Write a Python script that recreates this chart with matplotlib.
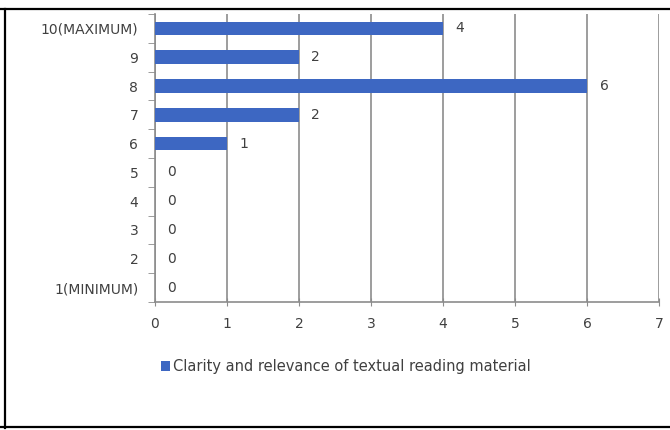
import numpy as np
import matplotlib.pyplot as plt
from matplotlib.lines import Line2D

plt.rcParams['font.family'] = ['DejaVu Sans']

categories = ['1(MINIMUM)', '2', '3', '4', '5', '6', '7', '8', '9', '10(MAXIMUM)']
values = [0, 0, 0, 0, 0, 1, 2, 6, 2, 4]
series_name = 'Clarity and relevance of textual reading material'
bar_color = '#3d67c2'
grid_color = '#8c8c8c'
text_color = '#404040'

fig = plt.figure(figsize=(6.7, 4.3), dpi=100)
ax = fig.add_axes([0.2313, 0.2977, 0.7523, 0.6697])

y = np.arange(len(categories))
bars = ax.barh(y, values, height=0.47, color=bar_color, label=series_name, zorder=3)

for yi, v in zip(y, values):
    ax.annotate(str(v), (v, yi), xytext=(9, 0), textcoords='offset points',
                ha='left', va='center', fontsize=10, color=text_color)

ax.set_xlim(0, 7)
ax.set_ylim(-0.5, len(categories) - 0.5)
ax.set_xticks(range(8))
ax.set_yticks(y)
ax.set_yticklabels(categories)
ax.set_yticks(np.arange(-0.5, len(categories)), minor=True)

ax.xaxis.grid(True, color=grid_color, linewidth=1.2, zorder=0)
ax.tick_params(axis='y', which='major', length=0, pad=12, labelsize=10, labelcolor=text_color)
ax.tick_params(axis='y', which='minor', length=5, color=grid_color, direction='out')
ax.tick_params(axis='x', which='major', length=6, direction='inout', color=grid_color,
               pad=8, labelsize=10, labelcolor=text_color)

for s in ['top', 'right']:
    ax.spines[s].set_visible(False)
for s in ['left', 'bottom']:
    ax.spines[s].set_color(grid_color)
    ax.spines[s].set_linewidth(1.2)

fig.legend(handles=[bars], labels=[series_name], loc='center left',
           bbox_to_anchor=(0.221, 0.147), frameon=False, fontsize=10.5,
           handlelength=0.6, handleheight=0.7, handletextpad=0.2,
           labelcolor=text_color)

# frame lines around the picture
fig.add_artist(Line2D([0, 1], [0.979, 0.979], color='black', linewidth=1.6, transform=fig.transFigure))
fig.add_artist(Line2D([0.007, 0.007], [0.005, 0.979], color='black', linewidth=1.6, transform=fig.transFigure))
fig.add_artist(Line2D([0, 1], [0.007, 0.007], color='black', linewidth=1.6, transform=fig.transFigure))

fig.savefig('out.png', dpi=100)
